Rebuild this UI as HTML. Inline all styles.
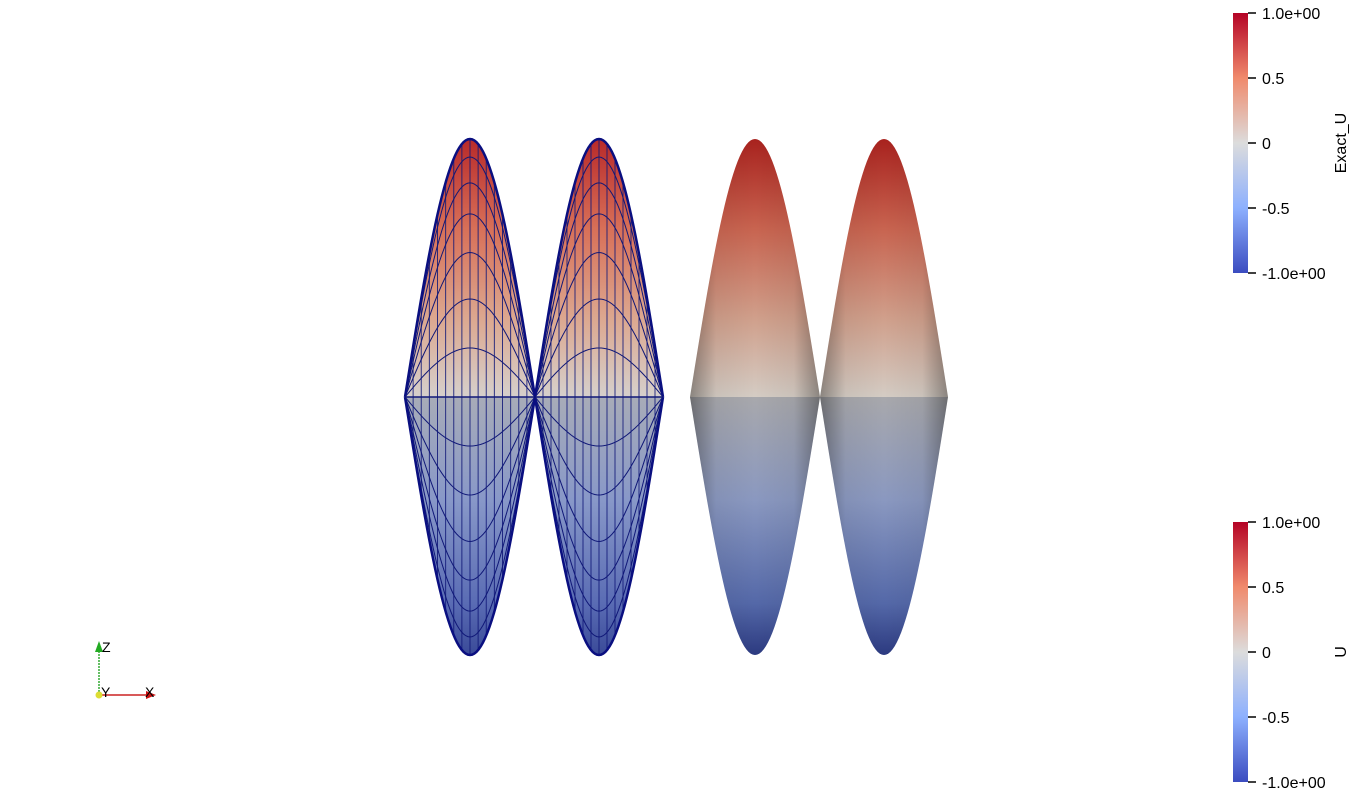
<!DOCTYPE html>
<html><head><meta charset="utf-8"><style>
html,body{margin:0;padding:0;background:#fff;width:1354px;height:796px;overflow:hidden}
svg{display:block}
text{font-family:"Liberation Sans",sans-serif;fill:#000}
</style></head><body>
<svg id="v" width="1354" height="796" viewBox="0 0 1354 796">
<defs>
<linearGradient id="cw" x1="0" y1="0" x2="0" y2="1">
<stop offset="0" stop-color="#b40426"/><stop offset="0.25" stop-color="#f08a6c"/>
<stop offset="0.5" stop-color="#dcdcdc"/><stop offset="0.75" stop-color="#8db0fe"/>
<stop offset="1" stop-color="#3b4cc0"/></linearGradient>
<linearGradient id="topA" x1="0" y1="0" x2="0" y2="1">
<stop offset="0" stop-color="#b82a2a"/><stop offset="0.35" stop-color="#d87058"/>
<stop offset="0.7" stop-color="#dca890"/><stop offset="1" stop-color="#d6d0cc"/></linearGradient>
<linearGradient id="botA" x1="0" y1="0" x2="0" y2="1">
<stop offset="0" stop-color="#a8acb8"/><stop offset="0.4" stop-color="#8898c8"/>
<stop offset="0.8" stop-color="#5a6cb4"/><stop offset="1" stop-color="#3a4a98"/></linearGradient>
<linearGradient id="topB" x1="0" y1="0" x2="0" y2="1">
<stop offset="0" stop-color="#a8221e"/><stop offset="0.35" stop-color="#c86450"/>
<stop offset="0.7" stop-color="#d0a08c"/><stop offset="1" stop-color="#d4ccc4"/></linearGradient>
<linearGradient id="botB" x1="0" y1="0" x2="0" y2="1">
<stop offset="0" stop-color="#a8a8ac"/><stop offset="0.4" stop-color="#8a98c0"/>
<stop offset="0.8" stop-color="#5468a8"/><stop offset="1" stop-color="#2c3a80"/></linearGradient>
<linearGradient id="shade" x1="0" y1="0" x2="1" y2="0">
<stop offset="0" stop-color="#000" stop-opacity="0.35"/><stop offset="0.2" stop-color="#000" stop-opacity="0.05"/>
<stop offset="0.5" stop-color="#000" stop-opacity="0"/><stop offset="0.8" stop-color="#000" stop-opacity="0.05"/>
<stop offset="1" stop-color="#000" stop-opacity="0.35"/></linearGradient>
</defs>
<g id="shapes"></g>
<g>
<rect x="1233" y="13" width="15" height="260" fill="url(#cw)"/>
<g stroke="#000" stroke-width="1.5">
<line x1="1248" y1="13" x2="1256" y2="13"/><line x1="1248" y1="78" x2="1256" y2="78"/><line x1="1248" y1="143" x2="1256" y2="143"/><line x1="1248" y1="208" x2="1256" y2="208"/><line x1="1248" y1="273" x2="1256" y2="273"/></g>
<g font-size="16"><text x="1262" y="19">1.0e+00</text><text x="1262" y="84">0.5</text><text x="1262" y="149">0</text><text x="1262" y="214">-0.5</text><text x="1262" y="279">-1.0e+00</text></g>
<text font-size="16" transform="translate(1346,143) rotate(-90)" text-anchor="middle">Exact_U</text>
</g>
<g>
<rect x="1233" y="522" width="15" height="260" fill="url(#cw)"/>
<g stroke="#000" stroke-width="1.5">
<line x1="1248" y1="522" x2="1256" y2="522"/><line x1="1248" y1="587" x2="1256" y2="587"/><line x1="1248" y1="652" x2="1256" y2="652"/><line x1="1248" y1="717" x2="1256" y2="717"/><line x1="1248" y1="782" x2="1256" y2="782"/></g>
<g font-size="16"><text x="1262" y="528">1.0e+00</text><text x="1262" y="593">0.5</text><text x="1262" y="658">0</text><text x="1262" y="723">-0.5</text><text x="1262" y="788">-1.0e+00</text></g>
<text font-size="16" transform="translate(1346,652) rotate(-90)" text-anchor="middle">U</text>
</g>
<g>
<line x1="99" y1="695" x2="99" y2="648" stroke="#3a3" stroke-width="1.5" stroke-dasharray="2,1"/>
<polygon points="95,652 103,652 99,641" fill="#2a2"/>
<line x1="99" y1="695" x2="148" y2="695" stroke="#c22" stroke-width="1.5"/>
<polygon points="146,691 146,699 156,695" fill="#c11"/>
<circle cx="99" cy="695" r="3.5" fill="#dd3"/>
<text x="102" y="652" font-size="14">Z</text><text x="101" y="697" font-size="14">Y</text><text x="145" y="697" font-size="14">X</text>
</g>
</svg>
<script>
const lobeStarts=[405,535,690,820];
const lobeWidth=[130,128,130,128];
const meshed=[true,true,false,false];
const levelFractions=[0.19,0.38,0.56,0.71,0.83,0.93];
const verticalCount=16;
const baseY=397, amp=258;
const NS='http://www.w3.org/2000/svg';
const g=document.getElementById('shapes');
function prof(x0,w,sign,a){let d='M'+x0+','+baseY;for(let i=0;i<=60;i++){const t=i/60;d+=' L'+(x0+t*w).toFixed(2)+','+(baseY-sign*a*Math.sin(Math.PI*t)).toFixed(2);}return d;}
function mk(tag,attrs){const e=document.createElementNS(NS,tag);for(const k in attrs)e.setAttribute(k,attrs[k]);g.appendChild(e);return e;}
lobeStarts.forEach((x0,i)=>{
 const w=lobeWidth[i];
 const m=meshed[i];
 let p=mk('path',{d:prof(x0,w,1,amp)+' Z',fill:m?'url(#topA)':'url(#topB)'});
 
 
 p=mk('path',{d:prof(x0,w,-1,amp)+' Z',fill:m?'url(#botA)':'url(#botB)'});
 
 
 if(!m){
  ['1','-1'].forEach(s=>{const sh=mk('path',{d:prof(x0,w,+s,amp)+' Z',fill:'url(#shade)'});
  
  });
 } else {
  for(let k=1;k<verticalCount;k++){
   const t=k/verticalCount;const x=x0+t*w;const h=amp*Math.sin(Math.PI*t);
   const l=mk('line',{x1:x,y1:baseY-h,x2:x,y2:baseY+h,stroke:'#101878','stroke-width':1,'stroke-opacity':0.85});
   
   
  }
  levelFractions.forEach(f=>{[1,-1].forEach(s=>{
   const c=mk('path',{d:prof(x0,w,s,amp*f),fill:'none',stroke:'#101878','stroke-width':1});
   
   });});
  [1,-1].forEach(s=>{const o=mk('path',{d:prof(x0,w,s,amp),fill:'none',stroke:'#0a0f80','stroke-width':2.5});
   
   });
  const b=mk('line',{x1:x0,y1:baseY,x2:x0+w,y2:baseY,stroke:'#101878','stroke-width':1.5});
  
  
 }
});
</script>
</body></html>
